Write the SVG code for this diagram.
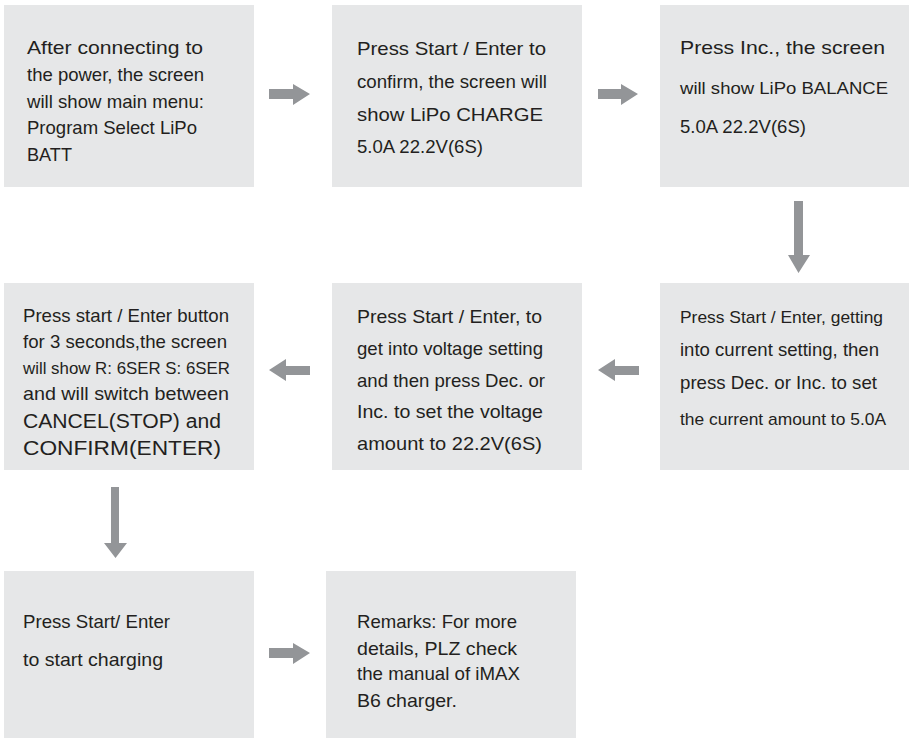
<svg xmlns="http://www.w3.org/2000/svg" width="909" height="738" viewBox="0 0 909 738">
<style>
.box{fill:#e6e7e8}
.t{font-family:"Liberation Sans",Arial,sans-serif;font-size:18.5px;fill:#231f20}
.s{font-size:17px}
.l{font-size:19.5px}
.arr{fill:#939598}
</style>
<rect width="909" height="738" fill="#ffffff"/>
<g id="connectors">
<polygon class="arr" points="269,89 293,89 293,84 310,94 293,105 293,99 269,99"/>
<polygon class="arr" points="598,89 621,89 621,84 638,94 621,105 621,99 598,99"/>
<polygon class="arr" points="794,201 803,201 803,255 810,255 798.5,273 788,255 794,255"/>
<polygon class="arr" points="639,366 615,366 615,359 598,370 615,381 615,375 639,375"/>
<polygon class="arr" points="310,366 286,366 286,359 269,370 286,381 286,375 310,375"/>
<polygon class="arr" points="111,487 119,487 119,543 127,543 115.5,558 104,543 111,543"/>
<polygon class="arr" points="269,648 293,648 293,643 310,653 293,664 293,658 269,658"/>
</g>
<g id="node1">
<rect class="box" x="4" y="5" width="250" height="182"/>
<text class="t" x="27" y="54" textLength="176" lengthAdjust="spacingAndGlyphs">After connecting to</text>
<text class="t" x="27" y="81" textLength="177" lengthAdjust="spacingAndGlyphs">the power, the screen</text>
<text class="t" x="27" y="108" textLength="177" lengthAdjust="spacingAndGlyphs">will show main menu:</text>
<text class="t" x="27" y="134" textLength="170" lengthAdjust="spacingAndGlyphs">Program Select LiPo</text>
<text class="t" x="27" y="161" textLength="45" lengthAdjust="spacingAndGlyphs">BATT</text>
</g>
<g id="node2">
<rect class="box" x="332" y="5" width="250" height="182"/>
<text class="t" x="357" y="55" textLength="189" lengthAdjust="spacingAndGlyphs">Press Start / Enter to</text>
<text class="t" x="357" y="88" textLength="190" lengthAdjust="spacingAndGlyphs">confirm, the screen will</text>
<text class="t" x="357" y="121" textLength="186" lengthAdjust="spacingAndGlyphs">show LiPo CHARGE</text>
<text class="t" x="357" y="153" textLength="126" lengthAdjust="spacingAndGlyphs">5.0A 22.2V(6S)</text>
</g>
<g id="node3">
<rect class="box" x="660" y="5" width="250" height="182"/>
<text class="t" x="680" y="54" textLength="205" lengthAdjust="spacingAndGlyphs">Press Inc., the screen</text>
<text class="t s" x="680" y="94" textLength="208" lengthAdjust="spacingAndGlyphs">will show LiPo BALANCE</text>
<text class="t" x="680" y="133" textLength="126" lengthAdjust="spacingAndGlyphs">5.0A 22.2V(6S)</text>
</g>
<g id="node4">
<rect class="box" x="4" y="283" width="250" height="187"/>
<text class="t" x="23" y="322" textLength="206" lengthAdjust="spacingAndGlyphs">Press start / Enter button</text>
<text class="t" x="23" y="348" textLength="204" lengthAdjust="spacingAndGlyphs">for 3 seconds,the screen</text>
<text class="t s" x="23" y="374" textLength="207" lengthAdjust="spacingAndGlyphs">will show R: 6SER S: 6SER</text>
<text class="t" x="23" y="400" textLength="206" lengthAdjust="spacingAndGlyphs">and will switch between</text>
<text class="t l" x="23" y="428" textLength="198" lengthAdjust="spacingAndGlyphs">CANCEL(STOP) and</text>
<text class="t l" x="23" y="455" textLength="198" lengthAdjust="spacingAndGlyphs">CONFIRM(ENTER)</text>
</g>
<g id="node5">
<rect class="box" x="332" y="283" width="250" height="187"/>
<text class="t" x="357" y="323" textLength="185" lengthAdjust="spacingAndGlyphs">Press Start / Enter, to</text>
<text class="t" x="357" y="355" textLength="186" lengthAdjust="spacingAndGlyphs">get into voltage setting</text>
<text class="t" x="357" y="387" textLength="188" lengthAdjust="spacingAndGlyphs">and then press Dec. or</text>
<text class="t" x="357" y="418" textLength="186" lengthAdjust="spacingAndGlyphs">Inc. to set the voltage</text>
<text class="t" x="357" y="450" textLength="185" lengthAdjust="spacingAndGlyphs">amount to 22.2V(6S)</text>
</g>
<g id="node6">
<rect class="box" x="660" y="283" width="250" height="187"/>
<text class="t s" x="680" y="323" textLength="203" lengthAdjust="spacingAndGlyphs">Press Start / Enter, getting</text>
<text class="t" x="680" y="356" textLength="199" lengthAdjust="spacingAndGlyphs">into current setting, then</text>
<text class="t" x="680" y="389" textLength="197" lengthAdjust="spacingAndGlyphs">press Dec. or Inc. to set</text>
<text class="t s" x="680" y="425" textLength="206" lengthAdjust="spacingAndGlyphs">the current amount to 5.0A</text>
</g>
<g id="node7">
<rect class="box" x="4" y="571" width="250" height="167"/>
<text class="t" x="23" y="628" textLength="147" lengthAdjust="spacingAndGlyphs">Press Start/ Enter</text>
<text class="t" x="23" y="666" textLength="140" lengthAdjust="spacingAndGlyphs">to start charging</text>
</g>
<g id="node8">
<rect class="box" x="326" y="571" width="250" height="167"/>
<text class="t" x="357" y="628" textLength="160" lengthAdjust="spacingAndGlyphs">Remarks: For more</text>
<text class="t" x="357" y="655" textLength="160" lengthAdjust="spacingAndGlyphs">details, PLZ check</text>
<text class="t" x="357" y="680" textLength="163" lengthAdjust="spacingAndGlyphs">the manual of iMAX</text>
<text class="t" x="357" y="707" textLength="100" lengthAdjust="spacingAndGlyphs">B6 charger.</text>
</g>
</svg>
